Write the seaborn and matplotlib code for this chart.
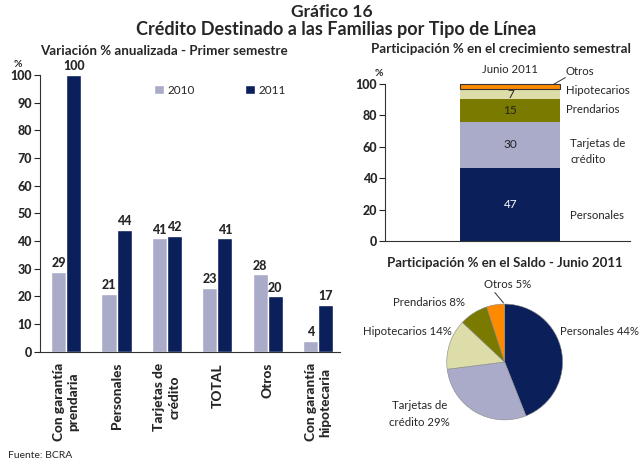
import numpy as np
import pandas as pd
import matplotlib
matplotlib.use('Agg')
from matplotlib import pyplot as plt
import seaborn as sns

# Left chart: annualized % variation, first semester
categories = ['Con garantía\nprendaria', 'Personales', 'Tarjetas de\ncrédito',
              'TOTAL', 'Otros', 'Con garantía\nhipotecaria']
var_2010 = [29, 21, 41, 23, 28, 4]
var_2011 = [100, 44, 42, 41, 20, 17]

# Right top: share in semester growth (June 2011), bottom to top
stack_labels = ['Personales', 'Tarjetas de\ncrédito', 'Prendarios', 'Hipotecarios', 'Otros']
stack_values = [46.7, 29.1, 14.4, 6.6, 3.2]
stack_text = ['47', '30', '15', '7', '']

# Right bottom: share in balance (June 2011), clockwise from top
pie_labels = ['Personales 44%', 'Tarjetas de\ncrédito 29%', 'Hipotecarios 14%',
              'Prendarios 8%', 'Otros 5%']
pie_values = [44, 29, 14, 8, 5]

navy = '#0B1F5B'
lavender = '#A9ABC8'
olive = '#7A7A00'
pale = '#DCDDA9'
orange = '#FF8A00'

sns.set_theme(style='ticks')
plt.rcParams['font.family'] = ['Lato', 'DejaVu Sans']

fig = plt.figure(figsize=(6.4, 4.66), dpi=100)

fig.text(0.518, 0.975, 'Gráfico 16', ha='center', va='center',
         fontsize=12.5, fontweight='bold')
fig.text(0.525, 0.936, 'Crédito Destinado a las Familias por Tipo de Línea',
         ha='center', va='center', fontsize=13, fontweight='bold')
fig.text(0.256, 0.891, 'Variación % anualizada - Primer semestre', ha='center',
         va='center', fontsize=9.6, fontweight='bold')
fig.text(0.782, 0.895, 'Participación % en el crecimiento semestral', ha='center',
         va='center', fontsize=9.6, fontweight='bold')
fig.text(0.789, 0.436, 'Participación % en el Saldo - Junio 2011', ha='center',
         va='center', fontsize=9.5, fontweight='bold')
fig.text(0.012, 0.012, 'Fuente: BCRA', ha='left', va='bottom', fontsize=7.5)

# ---- left bar chart
df = pd.DataFrame({
    'cat': categories * 2,
    'year': ['2010'] * len(categories) + ['2011'] * len(categories),
    'val': var_2010 + var_2011,
})
ax = fig.add_axes([0.0625, 0.245, 0.469, 0.594])
sns.barplot(data=df, x='cat', y='val', hue='year', ax=ax, width=0.6,
            palette={'2010': lavender, '2011': navy}, saturation=1, gap=0)
for c in ax.containers:
    ax.bar_label(c, fmt='%d', fontsize=9, fontweight='black', padding=2)
ax.set_ylim(0, 100)
ax.set_xlim(-0.52, 5.44)
ax.tick_params(axis='y', length=4, width=0.8, pad=2)
ax.tick_params(axis='x', length=0, pad=8)
ax.set_yticks(range(0, 101, 10))
ax.set_yticklabels([str(v) for v in range(0, 101, 10)], fontsize=9, fontweight='black')
ax.set_xticks(range(len(categories)))
ax.set_xticklabels(categories, rotation=90, fontsize=9.8, fontweight='black',
                   va='top', ha='center', linespacing=1.3)
ax.set_xlabel('')
ax.set_ylabel('')
for s in ['top', 'right']:
    ax.spines[s].set_visible(False)
for s in ['left', 'bottom']:
    ax.spines[s].set_linewidth(0.8)
    ax.spines[s].set_color('#333333')
handles, labels = ax.get_legend_handles_labels()
ax.legend(handles, labels, loc='center', bbox_to_anchor=(0.6, 0.945), ncol=2,
          frameon=False, fontsize=8.5, handlelength=0.8, handleheight=0.8,
          handletextpad=0.3, columnspacing=4.3)
fig.text(0.028, 0.862, '%', ha='center', va='center', fontsize=7.5, fontweight='bold')

# ---- right stacked bar
ax2 = fig.add_axes([0.602, 0.483, 0.383, 0.337])
stack_colors = [navy, lavender, olive, pale, orange]
bottoms = np.concatenate([[0], np.cumsum(stack_values)[:-1]])
for v, b, col, lab in zip(stack_values, bottoms, stack_colors, stack_labels):
    ec = '#333333' if lab == 'Otros' else 'none'
    ax2.bar(0, v, bottom=b, width=1, color=col, edgecolor=ec, linewidth=0.8,
            clip_on=False)
for v, b, txt, lab in zip(stack_values, bottoms, stack_text, stack_labels):
    ax2.text(0, b + v / 2, txt, ha='center', va='center', fontsize=8.5,
             color='white' if lab == 'Personales' else '#222222')
side_y = [16.5, 57, 83.4, 95.5, 107.6]
side_x = [0.6, 0.6, 0.56, 0.56, 0.55]
for lab, y, x in zip(stack_labels, side_y, side_x):
    ax2.text(x, y, lab, ha='left', va='center', fontsize=8.2, clip_on=False,
             linespacing=1.6)
ax2.plot([0.43, 0.55], [99.6, 104], color='#333333', lw=0.7, clip_on=False)
ax2.text(0, 109, 'Junio 2011', ha='center', va='center', fontsize=8.2, clip_on=False)
ax2.set_xlim(-1.25, 1.2)
ax2.set_ylim(0, 100)
ax2.tick_params(axis='y', length=4, width=0.8, pad=2)
ax2.set_yticks(range(0, 101, 20))
ax2.set_yticklabels([str(v) for v in range(0, 101, 20)], fontsize=9, fontweight='black')
ax2.set_xticks([])
for s in ['top', 'right']:
    ax2.spines[s].set_visible(False)
for s in ['left', 'bottom']:
    ax2.spines[s].set_linewidth(0.8)
    ax2.spines[s].set_color('#333333')
fig.text(0.592, 0.843, '%', ha='center', va='center', fontsize=7.5, fontweight='bold')

# ---- pie
ax3 = fig.add_axes([0.698, 0.0987, 0.181, 0.249])
ax3.pie(pie_values, colors=[navy, lavender, pale, olive, orange], startangle=90,
        counterclock=False, wedgeprops={'linewidth': 0.4, 'edgecolor': '#888888'})
ax3.set_xlim(-1, 1)
ax3.set_ylim(-1, 1)
ax3.set_aspect('equal')
pie_pos = [(0.95, 0.52, 'left'), (-1.47, -0.9, 'center'), (-0.91, 0.53, 'right'),
           (-0.69, 1.02, 'right'), (0.05, 1.33, 'center')]
for lab, (x, y, ha) in zip(pie_labels, pie_pos):
    ax3.text(x, y, lab, ha=ha, va='center', fontsize=8.2, clip_on=False,
             linespacing=1.6, multialignment='center')
ax3.plot([-0.02, -0.17], [1.02, 1.2], color='#333333', lw=0.7, clip_on=False)

fig.savefig('out.png', dpi=100)
